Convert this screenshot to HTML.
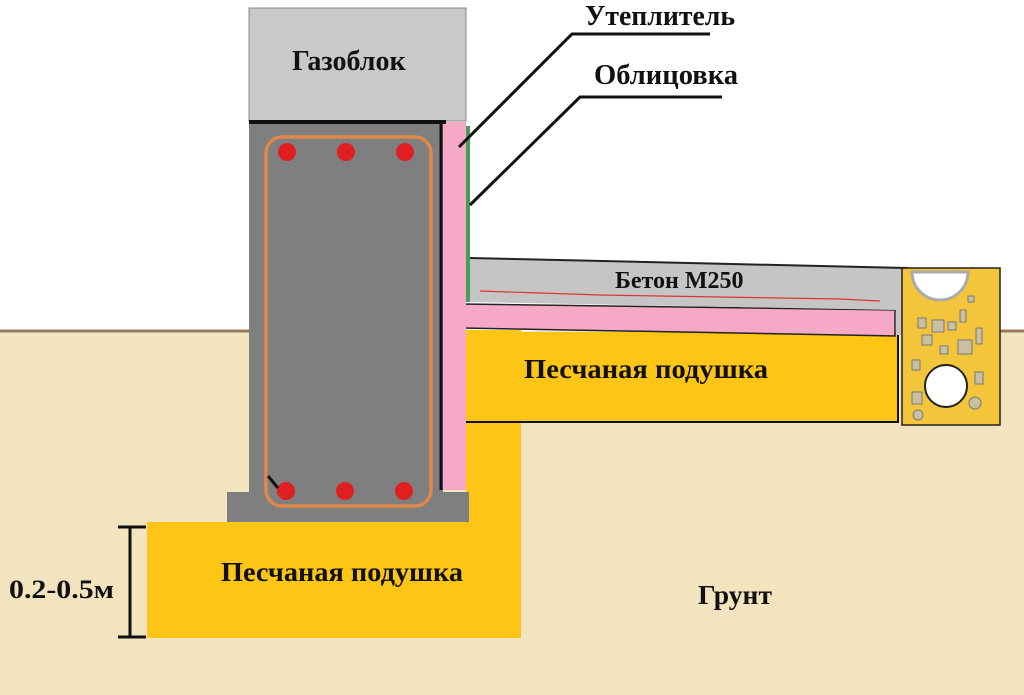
<!DOCTYPE html>
<html><head><meta charset="utf-8"><style>
body{margin:0;background:#fff}
svg{display:block}
text{font-family:"Liberation Serif","DejaVu Serif",serif;font-weight:bold;fill:#111}
</style></head><body>
<svg width="1024" height="695" viewBox="0 0 1024 695" xmlns="http://www.w3.org/2000/svg">
<rect x="0" y="0" width="1024" height="695" fill="#fff"/>
<rect x="0" y="331" width="1024" height="364" fill="#f2e4be"/>
<line x1="0" y1="331" x2="249" y2="331" stroke="#9a7a5a" stroke-width="3"/>
<line x1="908" y1="331" x2="1024" y2="331" stroke="#9a7a5a" stroke-width="3"/>
<rect x="147" y="522" width="374" height="116" fill="#fdc515"/>
<rect x="466" y="330" width="55" height="195" fill="#fdc515"/>
<rect x="466" y="332" width="433" height="90" fill="#fdc515"/>
<line x1="466" y1="422" x2="899" y2="422" stroke="#111" stroke-width="2"/>
<line x1="898" y1="335" x2="898" y2="423" stroke="#111" stroke-width="2"/>
<polygon points="463,304 895,310 895,336 463,328" fill="#f5a9c6" stroke="#222" stroke-width="1.5"/>
<polygon points="469,258 908,268 908,335 896,335 896,310 469,302" fill="#c5c5c5"/>
<line x1="469" y1="258" x2="908" y2="268" stroke="#222" stroke-width="2"/>
<polyline points="480,291 540,293 600,295 660,296 720,297 780,298 840,299 880,301" fill="none" stroke="#d33" stroke-width="1.2"/>
<text x="615" y="288" font-size="24">Бетон М250</text>
<rect x="902" y="268" width="98" height="157" fill="#f3c53a" stroke="#222" stroke-width="1.5"/>
<g fill="#c8c0a0" stroke="#777" stroke-width="1">
<rect x="918" y="318" width="8" height="10"/><rect x="932" y="320" width="12" height="12"/><rect x="948" y="322" width="8" height="8"/>
<rect x="960" y="310" width="6" height="12"/><rect x="922" y="335" width="10" height="10"/><rect x="958" y="340" width="14" height="14"/>
<rect x="940" y="346" width="8" height="8"/><rect x="912" y="360" width="8" height="10"/><rect x="976" y="328" width="6" height="16"/>
<rect x="912" y="392" width="10" height="12"/><rect x="975" y="372" width="8" height="12"/><circle cx="918" cy="415" r="5"/><circle cx="975" cy="403" r="6"/><rect x="968" y="296" width="6" height="6"/>
</g>
<path d="M912,272 A28,28 0 0 0 968,272 Z" fill="#fff" stroke="#aaa" stroke-width="3"/>
<circle cx="946" cy="386" r="21" fill="#fff" stroke="#222" stroke-width="2"/>
<rect x="227" y="492" width="242" height="30" fill="#7f7f7f"/>
<rect x="249" y="122" width="194" height="372" fill="#7f7f7f"/>
<rect x="443" y="122" width="23" height="368" fill="#f5a9c6"/>
<rect x="466" y="126" width="4" height="176" fill="#4a9a5a"/>
<line x1="441" y1="122" x2="441" y2="490" stroke="#111" stroke-width="3"/>
<rect x="249" y="8" width="217" height="113" fill="#c9c9c9" stroke="#888" stroke-width="1"/>
<line x1="249" y1="122" x2="446" y2="122" stroke="#111" stroke-width="4"/>
<rect x="266" y="137" width="165" height="369" rx="16" fill="none" stroke="#e0874a" stroke-width="3.5"/>
<g fill="#e02020"><circle cx="287" cy="152" r="9"/><circle cx="346" cy="152" r="9"/><circle cx="405" cy="152" r="9"/>
<circle cx="286" cy="491" r="9"/><circle cx="345" cy="491" r="9"/><circle cx="404" cy="491" r="9"/></g>
<line x1="268" y1="476" x2="278" y2="488" stroke="#111" stroke-width="3"/>
<text x="292" y="70" font-size="28">Газоблок</text>
<polyline points="459,147 572,34 710,34" fill="none" stroke="#111" stroke-width="3"/>
<polyline points="470,205 580,97 722,97" fill="none" stroke="#111" stroke-width="3"/>
<text x="585" y="25" font-size="28" textLength="150" lengthAdjust="spacingAndGlyphs">Утеплитель</text>
<text x="594" y="84" font-size="28" textLength="144" lengthAdjust="spacingAndGlyphs">Облицовка</text>
<text x="524" y="378" font-size="27" textLength="244" lengthAdjust="spacingAndGlyphs">Песчаная подушка</text>
<text x="221" y="581" font-size="27" textLength="242" lengthAdjust="spacingAndGlyphs">Песчаная подушка</text>
<text x="698" y="604" font-size="27" textLength="74" lengthAdjust="spacingAndGlyphs">Грунт</text>
<line x1="130" y1="527" x2="130" y2="637" stroke="#111" stroke-width="3"/>
<line x1="118" y1="527" x2="146" y2="527" stroke="#111" stroke-width="3"/>
<line x1="118" y1="637" x2="146" y2="637" stroke="#111" stroke-width="3"/>
<text x="9" y="598" font-size="26" textLength="105" lengthAdjust="spacingAndGlyphs">0.2-0.5м</text>
</svg>
</body></html>
